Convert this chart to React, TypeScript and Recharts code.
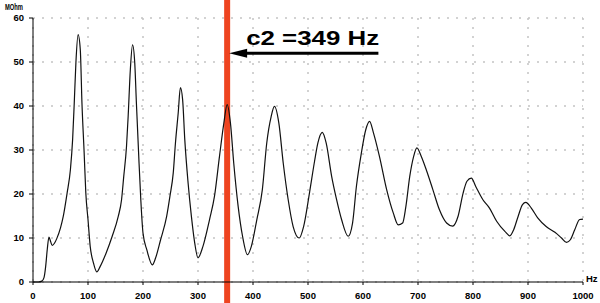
import React from "react";
import { LineChart, Line, XAxis, YAxis, CartesianGrid, ReferenceLine } from "recharts";

const hz = [0, 10, 16, 20, 23, 26, 29, 32, 35, 39, 43, 50, 55, 62, 68, 72, 75, 78, 82, 86, 89, 93, 96, 100, 104, 110, 116, 122, 133, 144, 155, 161, 165, 170, 173, 177, 181, 185, 188, 192, 196, 200, 207, 217, 223, 232, 243, 249, 255, 259, 264, 268, 272, 276, 282, 288, 294, 300, 309, 321, 330, 339, 347, 353, 359, 365, 373, 381, 390, 397, 407, 417, 425, 433, 439, 447, 455, 464, 473, 484, 492, 503, 512, 518, 526, 533, 543, 552, 561, 573, 581, 588, 597, 605, 612, 619, 630, 643, 655, 664, 672, 678, 685, 692, 698, 706, 715, 727, 739, 752, 763, 773, 782, 789, 797, 805, 818, 830, 843, 858, 867, 874, 882, 890, 896, 906, 918, 933, 949, 961, 970, 977, 985, 994, 1000];
const mohm = [0, 0, 0.2, 1, 3.5, 7.5, 10.2, 9.2, 8.3, 8.8, 9.8, 12.3, 14.9, 20.2, 25.5, 32.3, 40.7, 49.8, 56.2, 52.8, 40.7, 29.4, 20.3, 14.2, 8.1, 4.3, 2.3, 3.5, 6.6, 10.4, 14.9, 18.7, 24, 30.8, 37.6, 48.3, 53.9, 49.8, 40.7, 29.3, 18.7, 11.1, 7.3, 3.9, 5.5, 9.6, 14.9, 19.5, 24.8, 31.6, 38.4, 44.2, 41.5, 32.3, 22.5, 14.9, 8.9, 5.5, 8.1, 14.2, 19.5, 28.5, 36.1, 40.3, 36.1, 27, 17.2, 10.4, 6.2, 8.1, 14.2, 21, 31.6, 37.6, 39.9, 36.1, 27, 18.7, 12.6, 10, 12.6, 20.5, 27.5, 31.6, 34, 31.6, 24, 18.7, 14.2, 10.4, 13.4, 21.7, 29.3, 34.6, 36.5, 33.9, 28.5, 21, 15.7, 13, 13.4, 17.2, 24, 28.5, 30.5, 28.5, 25.5, 21, 16.4, 13.4, 12.7, 15, 20.2, 22.9, 23.6, 21.7, 18.7, 16.8, 13.8, 11.5, 10.5, 11.9, 14.9, 17.6, 18.1, 16.8, 14.5, 12.6, 11.3, 10, 9, 9.6, 11.9, 14.2, 14.3];

const xTicks = [0, 100, 200, 300, 400, 500, 600, 700, 800, 900, 1000];
const yTicks = [0, 10, 20, 30, 40, 50, 60];
const markerHz = 353;
const markerText = "c2 =349 Hz";
const arrowEndHz = 628;
const arrowLevel = 52;
const yUnit = "MOhm";
const xUnit = "Hz";

const data = hz.map((h, i) => ({ hz: h, v: mohm[i] }));

const tickStyle = { fontFamily: "'Liberation Sans', Arial, sans-serif", fontSize: 9.5, fontWeight: 700, fill: "#000" };

const ArrowShape = (props: any) => {
  const { x1, y1, x2 } = props;
  const tip = x1 + 2;
  return (
    <g>
      <line x1={tip + 16} y1={y1} x2={x2} y2={y1} stroke="#000" strokeWidth={3} />
      <polygon points={`${tip},${y1} ${tip + 18},${y1 - 4.5} ${tip + 18},${y1 + 4.5}`} fill="#000" />
      <text
        x={tip + 17}
        y={y1 - 8}
        fontFamily="'Liberation Sans', Arial, sans-serif"
        fontSize={20}
        fontWeight={700}
        fill="#000"
        textLength={133}
        lengthAdjust="spacingAndGlyphs"
      >
        {markerText}
      </text>
    </g>
  );
};

export default function App() {
  return (
    <div style={{ position: "absolute", left: 0, top: 0, background: "#fff" }}>
      <LineChart width={600} height={303} data={data} margin={{ top: 18, right: 17, bottom: 0, left: 0 }}>
        <CartesianGrid stroke="#c4c4c4" strokeDasharray="2 7" strokeWidth={1.5} horizontalValues={yTicks} verticalValues={xTicks} />
        <XAxis
          type="number"
          dataKey="hz"
          domain={[0, 1000]}
          ticks={xTicks}
          interval={0}
          height={21}
          tickSize={3}
          tickMargin={7}
          stroke="#000"
          tick={tickStyle}
          label={(p: any) => {
            const vb = p.viewBox || { x: 33, y: 282, width: 550 };
            return (
              <text x={vb.x + vb.width + 3} y={vb.y} fontFamily="'Liberation Sans', Arial, sans-serif" fontSize={9.5} fontWeight={700} fill="#000">
                {xUnit}
              </text>
            );
          }}
        />
        <YAxis
          type="number"
          domain={[0, 60]}
          ticks={yTicks}
          interval={0}
          width={33}
          tickSize={4}
          tickMargin={5}
          stroke="#000"
          tick={tickStyle}
          label={(p: any) => {
            const vb = p.viewBox || { x: 0, y: 18 };
            return (
              <text x={vb.x + 5} y={vb.y - 8} fontFamily="'Liberation Sans', Arial, sans-serif" fontSize={9} fontWeight={700} fill="#000" textLength={18} lengthAdjust="spacingAndGlyphs">
                {yUnit}
              </text>
            );
          }}
        />
        <ReferenceLine
          segment={[{ x: markerHz, y: -5 }, { x: markerHz, y: 65 }]}
          stroke="#ee4420"
          strokeWidth={6}
          ifOverflow="visible"
        />
        <ReferenceLine
          segment={[{ x: markerHz, y: arrowLevel }, { x: arrowEndHz, y: arrowLevel }]}
          ifOverflow="visible"
          shape={ArrowShape}
        />
        <Line type="monotone" dataKey="v" stroke="#111" strokeWidth={1.2} dot={false} isAnimationActive={false} />
      </LineChart>
    </div>
  );
}
